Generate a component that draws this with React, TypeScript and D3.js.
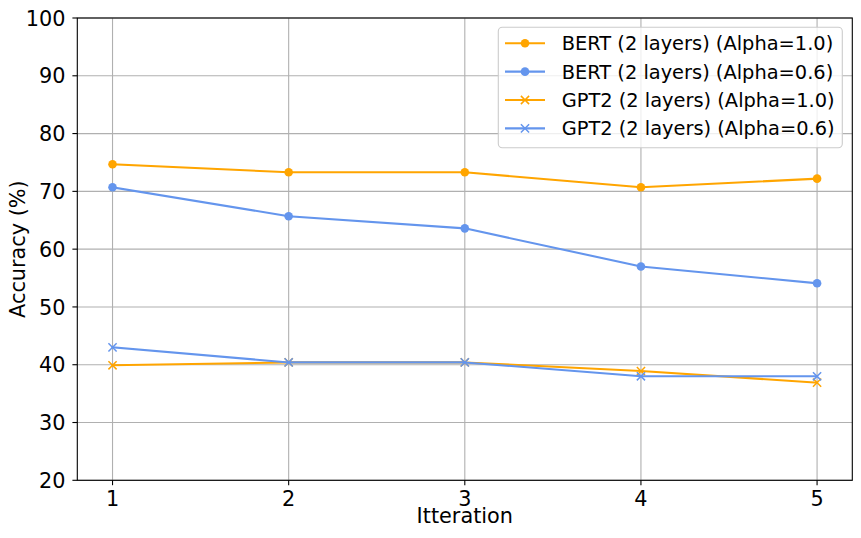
import React from "react";
import * as d3 from "d3";

const iterations = [1, 2, 3, 4, 5];
const bertAlpha10 = [74.7, 73.3, 73.3, 70.7, 72.2];
const bertAlpha06 = [70.7, 65.7, 63.6, 57.0, 54.1];
const gpt2Alpha10 = [39.9, 40.4, 40.4, 38.9, 36.9];
const gpt2Alpha06 = [43.0, 40.4, 40.4, 38.0, 38.0];
const yTicks = [20, 30, 40, 50, 60, 70, 80, 90, 100];

const ORANGE = "#FFA500";
const BLUE = "#6495ED";

const seriesList = [
  { label: "BERT (2 layers) (Alpha=1.0)", values: bertAlpha10, color: ORANGE, marker: "o" },
  { label: "BERT (2 layers) (Alpha=0.6)", values: bertAlpha06, color: BLUE, marker: "o" },
  { label: "GPT2 (2 layers) (Alpha=1.0)", values: gpt2Alpha10, color: ORANGE, marker: "x" },
  { label: "GPT2 (2 layers) (Alpha=0.6)", values: gpt2Alpha06, color: BLUE, marker: "x" },
];

const W = 861;
const H = 538;
const L = 77.3, R = 852.3, T = 18, B = 480.3;
const FONT = "'DejaVu Sans', sans-serif";

function Marker({ type, x, y, color }: { type: string; x: number; y: number; color: string }) {
  if (type === "o") return <circle cx={x} cy={y} r={4.3} fill={color} />;
  const s = 4.1;
  return (
    <path
      d={`M${x - s},${y - s}L${x + s},${y + s}M${x - s},${y + s}L${x + s},${y - s}`}
      stroke={color}
      strokeWidth={1.5}
      fill="none"
    />
  );
}

export default function App() {
  const x = d3.scaleLinear().domain([0.8, 5.2]).range([L, R]);
  const y = d3.scaleLinear().domain([20, 100]).range([B, T]);
  const line = d3
    .line<number>()
    .x((_, i) => x(iterations[i]))
    .y((d) => y(d));

  const legX = 498.3, legY = 27.3, legW = 344, legH = 120.4;
  const rowY = (i: number) => 43.3 + i * 28.35;

  return (
    <svg
      width={W}
      height={H}
      style={{ position: "absolute", left: 0, top: 0, background: "#fff" }}
      fontFamily={FONT}
    >
      <rect x={0} y={0} width={W} height={H} fill="#fff" />
      {/* grid */}
      {iterations.map((t) => (
        <line key={"gx" + t} x1={x(t)} x2={x(t)} y1={T} y2={B} stroke="#b0b0b0" strokeWidth={1.1} />
      ))}
      {yTicks.map((t) => (
        <line key={"gy" + t} x1={L} x2={R} y1={y(t)} y2={y(t)} stroke="#b0b0b0" strokeWidth={1.1} />
      ))}
      {/* series */}
      {seriesList.map((s) => (
        <g key={s.label}>
          <path d={line(s.values) || ""} fill="none" stroke={s.color} strokeWidth={2.08} strokeLinejoin="round" strokeLinecap="square" />
          {s.values.map((v, i) => (
            <Marker key={i} type={s.marker} x={x(iterations[i])} y={y(v)} color={s.color} />
          ))}
        </g>
      ))}
      {/* frame */}
      <rect x={L} y={T} width={R - L} height={B - T} fill="none" stroke="#000" strokeWidth={1.1} />
      {/* x ticks */}
      {iterations.map((t) => (
        <g key={"xt" + t}>
          <line x1={x(t)} x2={x(t)} y1={B} y2={B + 4.9} stroke="#000" strokeWidth={1.1} />
          <text x={x(t)} y={505.7} textAnchor="middle" fontSize={20.8} fill="#000">
            {t}
          </text>
        </g>
      ))}
      {/* y ticks */}
      {yTicks.map((t) => (
        <g key={"yt" + t}>
          <line x1={L - 4.9} x2={L} y1={y(t)} y2={y(t)} stroke="#000" strokeWidth={1.1} />
          <text x={65.5} y={y(t) + 7.6} textAnchor="end" fontSize={20.8} fill="#000">
            {t}
          </text>
        </g>
      ))}
      <text x={(L + R) / 2} y={523.3} textAnchor="middle" fontSize={20.8} fill="#000">
        Itteration
      </text>
      <text
        transform={`translate(25,${(T + B) / 2}) rotate(-90)`}
        textAnchor="middle"
        fontSize={20.8}
        fill="#000"
      >
        Accuracy (%)
      </text>
      {/* legend */}
      <rect x={legX} y={legY} width={legW} height={legH} rx={4} ry={4} fill="#fff" fillOpacity={0.8} stroke="#cccccc" strokeWidth={1.1} />
      {seriesList.map((s, i) => (
        <g key={"lg" + i}>
          <line x1={505} x2={545} y1={rowY(i)} y2={rowY(i)} stroke={s.color} strokeWidth={2.08} />
          <Marker type={s.marker} x={525} y={rowY(i)} color={s.color} />
          <text x={561.7} y={rowY(i) + 7} fontSize={19.4} fill="#000">
            {s.label}
          </text>
        </g>
      ))}
    </svg>
  );
}
